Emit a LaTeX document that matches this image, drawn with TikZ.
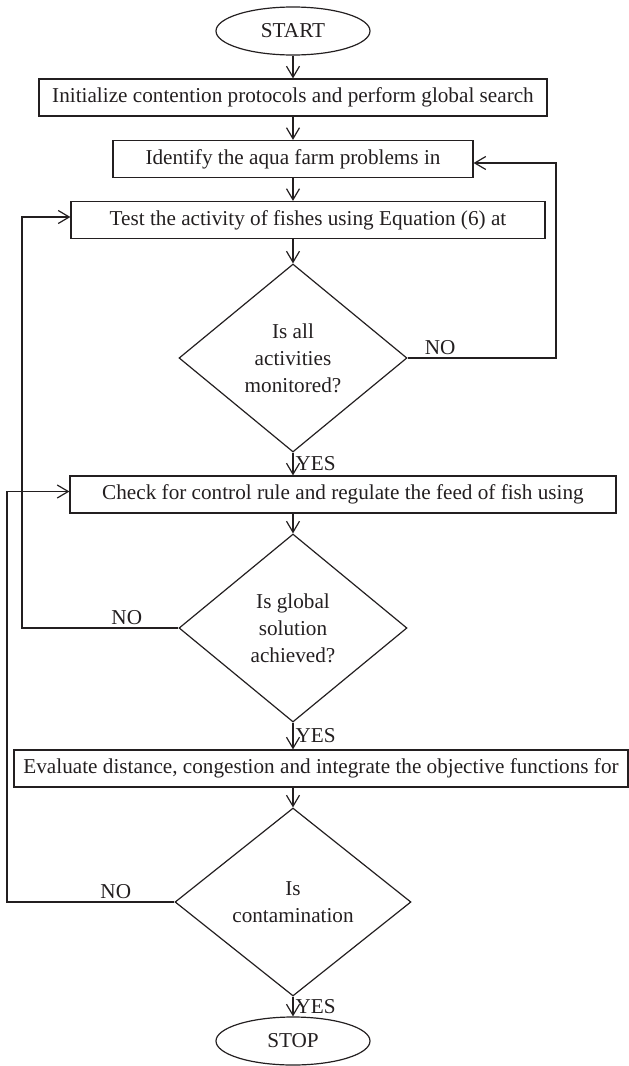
\documentclass[tikz,border=0pt]{standalone}
\usepackage{fontspec}
\setmainfont{Liberation Serif}
\usepackage{xcolor}
\usepackage{tikz}
\usetikzlibrary{positioning}
\usetikzlibrary{arrows.meta,shapes.geometric}
\definecolor{ink}{HTML}{231F20}

\begin{document}
\begin{tikzpicture}[x=0.5pt,y=-0.5pt,->,>={Straight Barb[length=5.5pt,width=6.5pt]},
  line width=0.6pt,draw=ink,text=ink,font=\fontsize{10.6}{13.5}\selectfont,
  term/.style={draw,ellipse,minimum width=77pt,minimum height=24pt,inner sep=0pt},
  box/.style={draw,rectangle,minimum height=18.5pt,inner sep=0pt},
  dec/.style={draw,diamond,align=center,minimum width=114pt,minimum height=94pt,inner sep=0pt},
  yes/.style={right,inner sep=1pt},
  no/.style={above,inner sep=1.5pt}]
  \useasboundingbox (0,0) rectangle (628,1066);
  % Nodes
  \node[term] (start) at (293,31) {START};
  \node[box,minimum width=254pt] (b1) at (293,97.5) {Initialize contention protocols and perform global search};
  \node[box,minimum width=180pt] (b2) at (293,159) {Identify the aqua farm problems in};
  \node[box,minimum width=237pt] (b3) at (308,220) {Test the activity of fishes using Equation (6) at};
  \node[dec] (d1) at (293,358) {Is all\\activities\\monitored?};
  \node[box,minimum width=273pt] (b4) at (343,494.5) {Check for control rule and regulate the feed of fish using};
  \node[dec] (d2) at (293,628) {Is global\\solution\\achieved?};
  \node[box,minimum width=307pt] (b5) at (321,768.5) {Evaluate distance, congestion and integrate the objective functions for};
  \node[dec,minimum width=118pt] (d3) at (293,902) {Is\\contamination};
  \node[term] (stop) at (293,1041) {STOP};
  % Main flow
  \draw (start) -- (b1);
  \draw (b1) -- (b2);
  \draw (b2) -- (b3.north -| b2);
  \draw (b3.south -| d1) -- (d1);
  \draw (d1) -- node[yes]{YES} (b4.north -| d1);
  \draw (b4.south -| d2) -- (d2);
  \draw (d2) -- node[yes]{YES} (b5.north -| d2);
  \draw (b5.south -| d3) -- (d3);
  \draw (d3) -- node[yes]{YES} (stop);
  % Loops back
  \coordinate (rgt) at (556,0);
  \coordinate (lft1) at (22,0);
  \coordinate (lft2) at (7,0);
  \draw (d1.east) -- node[no,pos=0.22]{NO} (d1.east -| rgt) |- ([yshift=-2pt]b2.east);
  \draw (d2.west) -- node[no,pos=0.33]{NO} (d2.west -| lft1) |- ([yshift=1.5pt]b3.west);
  \draw (d3.west) -- node[no,pos=0.35]{NO} (d3.west -| lft2) |- ([yshift=1.5pt]b4.west);
\end{tikzpicture}
\end{document}
